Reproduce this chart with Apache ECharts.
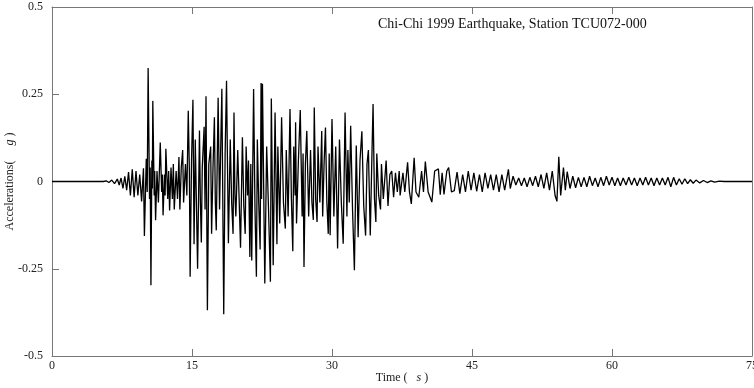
<!DOCTYPE html>
<html>
<head>
<meta charset="utf-8">
<script src="https://cdn.jsdelivr.net/npm/echarts@6/dist/echarts.min.js"></script>
<style>
  html, body { margin: 0; padding: 0; background: #fff; }
  #chart { width: 754px; height: 388px; }
</style>
</head>
<body>
<div id="chart"></div>
<script>
// time (s) of each read-off peak, and the acceleration (g) at it
var timeSec = [
  0, 5.5, 5.8, 6.1, 6.4, 6.7, 7.0, 7.2, 7.4, 7.6, 7.8, 8.0, 8.2, 8.4, 8.6, 8.8, 9.0, 9.2, 9.4, 9.6, 9.8, 9.9,
  10.1, 10.2, 10.3, 10.45, 10.52, 10.6, 10.7, 10.75, 10.8, 10.95, 11.0, 11.1, 11.25, 11.4, 11.6, 11.75, 11.82, 11.9,
  12.05, 12.12, 12.2, 12.4, 12.5, 12.6, 12.75, 12.9, 13.0, 13.1, 13.3, 13.45, 13.6, 13.7, 13.85, 14.0, 14.1, 14.3,
  14.45, 14.6, 14.72, 14.8, 14.95, 15.1, 15.22, 15.35, 15.6, 15.8, 15.9, 16.0, 16.1, 16.3, 16.4, 16.5, 16.65, 16.8,
  17.0, 17.1, 17.25, 17.4, 17.5, 17.6, 17.7, 17.8, 17.95, 18.05, 18.2, 18.4, 18.55, 18.7, 18.9, 19.1, 19.25, 19.4,
  19.5, 19.6, 19.7, 19.9, 20.05, 20.2, 20.4, 20.55, 20.7, 20.8, 20.95, 21.05, 21.2, 21.3, 21.4, 21.6, 21.75, 21.9,
  22.0, 22.15, 22.3, 22.4, 22.45, 22.55, 22.8, 23.0, 23.2, 23.4, 23.5, 23.7, 23.9, 24.1, 24.2, 24.4, 24.6, 24.8,
  25.0, 25.1, 25.3, 25.5, 25.65, 25.8, 25.9, 26.05, 26.1, 26.2, 26.4, 26.6, 26.8, 26.9, 27.0, 27.15, 27.3, 27.5,
  27.7, 27.85, 28.0, 28.1, 28.25, 28.4, 28.5, 28.7, 28.9, 29.0, 29.15, 29.3, 29.45, 29.6, 29.7, 29.8, 30.0, 30.2,
  30.4, 30.6, 30.8, 31.0, 31.2, 31.4, 31.6, 31.7, 31.85, 32.0, 32.2, 32.4, 32.6, 32.8, 33.0, 33.2, 33.4, 33.6,
  33.75, 33.9, 34.1, 34.25, 34.4, 34.55, 34.7, 34.8, 35.0, 35.2, 35.3, 35.5, 35.8, 36.0, 36.2, 36.4, 36.6, 36.8,
  37.0, 37.2, 37.3, 37.6, 37.8, 38.1, 38.3, 38.5, 38.8, 39.0, 39.3, 39.6, 39.8, 40.0, 40.3, 40.7, 41.0, 41.4,
  41.6, 41.8, 42.0, 42.3, 42.5, 42.8, 43.1, 43.4, 43.7, 44.0, 44.3, 44.6, 44.9, 45.2, 45.5, 45.8, 46.1, 46.4,
  46.7, 47.0, 47.3, 47.6, 47.9, 48.2, 48.5, 48.9, 49.1, 49.4, 49.7, 50.0, 50.3, 50.6, 50.9, 51.2, 51.5, 51.8,
  52.1, 52.4, 52.7, 53.0, 53.3, 53.6, 53.9, 54.1, 54.3, 54.5, 54.8, 55.0, 55.2, 55.5, 55.8, 56.1, 56.4, 56.7,
  57.0, 57.3, 57.6, 57.9, 58.2, 58.5, 58.8, 59.1, 59.4, 59.7, 60.0, 60.3, 60.6, 60.9, 61.2, 61.5, 61.8, 62.1,
  62.4, 62.7, 63.0, 63.3, 63.6, 63.9, 64.2, 64.5, 64.8, 65.1, 65.4, 65.7, 66.0, 66.3, 66.6, 66.9, 67.2, 67.5,
  67.8, 68.1, 68.4, 68.7, 69.0, 69.4, 69.8, 70.2, 70.6, 71.0, 71.5, 72.0, 75
];
var accelG = [
  0, 0, 0.002, -0.003, 0.004, -0.006, 0.007, -0.01, 0.01, -0.02, 0.015, -0.025, 0.027, -0.04, 0.035, -0.045, 0.03, -0.04, 0.02, -0.057, 0.038, -0.156,
  0.065, -0.03, 0.325, -0.05, 0.04, -0.297, 0.06, -0.02, 0.231, -0.04, 0.03, -0.111, 0.03, -0.06, 0.112, -0.03, 0.02, -0.097,
  0.02, -0.04, 0.094, -0.05, 0.03, -0.083, 0.04, -0.05, 0.05, -0.08, 0.03, -0.05, 0.07, -0.08, 0.04, 0.09, -0.06, 0.05,
  -0.04, 0.203, 0.03, -0.273, 0.06, 0.234, -0.18, 0.12, -0.25, 0.146, -0.06, -0.175, 0.04, 0.157, -0.08, 0.244, -0.369, 0.05,
  0.10, -0.15, 0.04, 0.184, -0.06, -0.14, 0.05, 0.24, -0.08, 0.06, 0.266, -0.38, 0.08, 0.289, -0.177, 0.12, -0.06, -0.15,
  0.198, -0.04, -0.10, 0.09, -0.05, -0.19, 0.127, -0.07, -0.15, 0.10, -0.04, 0.06, -0.216, 0.05, -0.226, 0.265, -0.08, -0.273,
  0.12, -0.06, -0.195, 0.282, -0.05, 0.28, -0.292, 0.10, -0.08, -0.287, 0.238, -0.24, 0.198, -0.18, 0.10, -0.12, 0.184, -0.06,
  -0.135, 0.09, -0.10, 0.208, -0.05, -0.20, 0.10, -0.04, 0.17, -0.12, 0.06, 0.205, -0.10, 0.08, -0.245, 0.05, 0.145, -0.10,
  0.09, -0.06, -0.11, 0.212, -0.05, -0.116, 0.10, -0.06, 0.145, -0.10, 0.05, 0.155, -0.06, -0.15, 0.08, -0.154, 0.179, -0.10,
  0.10, -0.192, 0.12, -0.06, -0.178, 0.198, -0.10, 0.09, -0.06, 0.16, -0.08, -0.254, 0.103, -0.16, 0.06, 0.144, -0.07, -0.155,
  0.05, 0.09, -0.155, 0.04, 0.222, -0.05, -0.116, 0.08, -0.04, -0.08, 0.05, -0.05, 0.06, -0.07, 0.02, 0.03, -0.045, 0.025,
  -0.03, 0.03, -0.04, 0.025, -0.03, 0.055, -0.03, -0.064, 0.068, -0.03, -0.045, 0.03, -0.03, 0.057, -0.03, -0.059, 0.03, 0.036,
  -0.038, 0.025, -0.037, 0.03, 0.04, -0.03, -0.026, 0.027, -0.035, 0.02, -0.03, 0.03, -0.025, 0.025, -0.028, 0.02, -0.03, 0.025,
  -0.02, 0.02, -0.025, 0.02, -0.03, 0.02, -0.025, 0.035, -0.02, 0.015, -0.01, 0.01, -0.012, 0.01, -0.015, 0.012, -0.012, 0.015,
  -0.015, 0.02, -0.02, 0.025, -0.025, 0.03, -0.04, -0.057, 0.071, -0.04, 0.04, -0.025, 0.028, -0.02, 0.015, -0.018, 0.012, -0.015,
  0.012, -0.015, 0.015, -0.012, 0.01, -0.015, 0.012, -0.012, 0.015, -0.01, 0.012, -0.012, 0.01, -0.012, 0.01, -0.01, 0.012, -0.01,
  0.01, -0.012, 0.01, -0.01, 0.012, -0.01, 0.01, -0.012, 0.01, -0.01, 0.01, -0.01, 0.012, -0.015, 0.012, -0.01, 0.008, -0.008,
  0.008, -0.006, 0.005, -0.005, 0.004, -0.004, 0.003, -0.003, 0.002, -0.002, 0.001, 0, 0
];
var xTicks = [0, 75, 15];      // min, max, interval
var yTicks = [-0.5, 0.5, 0.25];

var chart = echarts.init(document.getElementById('chart'));

function getOption() {
    var pts = timeSec.map(function (t, i) { return [t, accelG[i]]; });
    var serif = 'Liberation Serif, Times New Roman, serif';
    var frame = { show: true, onZero: false, lineStyle: { color: '#777', width: 1 } };
    var tick = { show: true, inside: true, length: 7, lineStyle: { color: '#777' } };
    return {
        animation: false,
        textStyle: { fontFamily: serif },
        title: {
            text: 'Chi-Chi 1999 Earthquake, Station TCU072-000',
            left: 373,
            top: 12,
            textStyle: { fontFamily: serif, fontSize: 14, fontWeight: 'normal', color: '#111' }
        },
        grid: { left: 52, right: 2, top: 7, bottom: 32, containLabel: false, outerBoundsMode: 'none' },
        xAxis: [
            {
                type: 'value',
                min: xTicks[0], max: xTicks[1], interval: xTicks[2],
                position: 'bottom',
                axisLine: frame,
                axisTick: tick,
                axisLabel: { fontFamily: serif, fontSize: 12, color: '#222', margin: 4 },
                splitLine: { show: false },
                name: 'Time (   {i|s} )',
                nameLocation: 'middle',
                nameGap: 16,
                nameMoveOverlap: false,
                nameTextStyle: {
                    fontFamily: serif, fontSize: 12, color: '#222',
                    rich: { i: { fontFamily: serif, fontStyle: 'italic', fontSize: 12, color: '#222' } }
                }
            },
            {
                type: 'value',
                min: xTicks[0], max: xTicks[1], interval: xTicks[2],
                position: 'top',
                axisLine: frame,
                axisTick: tick,
                axisLabel: { show: false },
                splitLine: { show: false }
            }
        ],
        yAxis: [
            {
                type: 'value',
                min: yTicks[0], max: yTicks[1], interval: yTicks[2],
                position: 'left',
                axisLine: frame,
                axisTick: tick,
                axisLabel: { fontFamily: serif, fontSize: 12, color: '#222', margin: 9 },
                splitLine: { show: false },
                name: 'Accelerations(     {i|g} )',
                nameLocation: 'middle',
                nameRotate: 90,
                nameGap: 36,
                nameMoveOverlap: false,
                nameTextStyle: {
                    fontFamily: serif, fontSize: 12, color: '#222',
                    rich: { i: { fontFamily: serif, fontStyle: 'italic', fontSize: 12, color: '#222' } }
                }
            },
            {
                type: 'value',
                min: yTicks[0], max: yTicks[1], interval: yTicks[2],
                position: 'right',
                axisLine: frame,
                axisTick: { show: false },
                axisLabel: { show: false },
                splitLine: { show: false }
            }
        ],
        series: [
            {
                name: 'TCU072-000',
                type: 'line',
                data: pts,
                showSymbol: false,
                lineStyle: { color: '#000', width: 1.3 },
                itemStyle: { color: '#000' },
                z: 1
            }
        ]
    };
}

chart.setOption(getOption());
window.addEventListener('resize', function () { chart.resize(); });
</script>
</body>
</html>
